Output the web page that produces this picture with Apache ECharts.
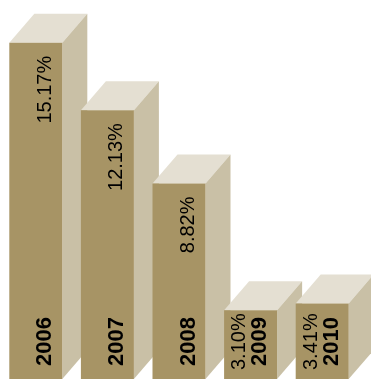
<!DOCTYPE html>
<html>
<head>
<meta charset="utf-8">
<script src="https://cdn.jsdelivr.net/npm/echarts@6/dist/echarts.min.js"></script>
<style>
html, body { margin: 0; padding: 0; background: #fff; }
#main { width: 371px; height: 379px; }
</style>
</head>
<body>
<div id="main"></div>
<script>
// data
var years = ['2006', '2007', '2008', '2009', '2010'];
var growth = [15.17, 12.13, 8.82, 3.10, 3.41];

var faceColor = '#a79465';
var sideColor = '#c9c0a6';
var topColor = '#e4dfd2';
var barW = 53, depthX = 25, depthY = 29;
var fontFam = '"Liberation Sans", Arial, sans-serif';

function vText(str, x, y, align, font) {
  return {
    type: 'text',
    x: x,
    y: y,
    rotation: Math.PI / 2,
    style: {
      text: str,
      font: font,
      fill: '#000',
      align: align,
      textAlign: align,
      verticalAlign: 'middle',
      textVerticalAlign: 'middle'
    }
  };
}

function renderBox(params, api) {
  var i = api.value(0);
  var top = api.coord([i, api.value(1)]);
  var base = api.coord([i, 0]);
  var cx = top[0];
  var l = cx - barW / 2, r = cx + barW / 2;
  var t = top[1], b = base[1];
  var h = b - t;
  var kids = [
    { type: 'polygon', shape: { points: [[l, t], [l + depthX, t - depthY], [r + depthX, t - depthY], [r, t]] }, style: { fill: topColor } },
    { type: 'polygon', shape: { points: [[r, t], [r + depthX, t - depthY], [r + depthX, b - depthY], [r, b]] }, style: { fill: sideColor } },
    { type: 'rect', shape: { x: l, y: t, width: barW, height: h }, style: { fill: faceColor } }
  ];
  var pct = api.value(1).toFixed(2) + '%';
  // year at the foot of the bar
  kids.push(vText(years[i], cx + 9.5, b - 13, 'left', 'bold 22px ' + fontFam));
  // percentage: at the top for tall bars, beside the year for short ones
  if (h > 120) {
    kids.push(vText(pct, cx + 9.5, t + 13, 'right', '20px ' + fontFam));
  } else {
    kids.push(vText(pct, cx - 11, b - 9, 'left', '20px ' + fontFam));
  }
  return { type: 'group', children: kids };
}

var chart = echarts.init(document.getElementById('main'));
var option = {
  animation: false,
  grid: { left: -3, right: 13, top: 0, bottom: 0 },
  xAxis: { type: 'category', data: years, show: false },
  yAxis: { type: 'value', min: 0, max: 17.1, show: false },
  series: [{
    type: 'custom',
    renderItem: renderBox,
    encode: { x: 0, y: 1 },
    data: growth.map(function (v, i) { return [i, v]; })
  }]
};
chart.setOption(option);
</script>
</body>
</html>
